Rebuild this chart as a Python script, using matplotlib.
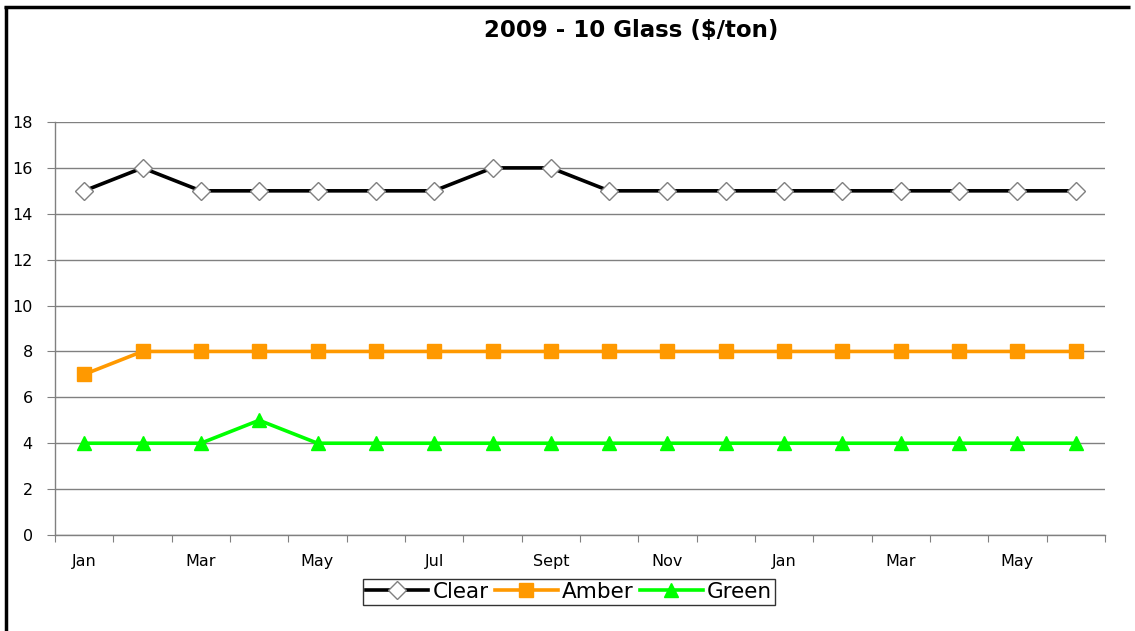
import matplotlib
matplotlib.use("Agg")
import matplotlib.pyplot as plt
from matplotlib.lines import Line2D
import numpy as np

plt.rcParams['font.family'] = ['DejaVu Sans']

months = ["Jan", "Feb", "Mar", "Apr", "May", "Jun", "Jul", "Aug", "Sept",
          "Oct", "Nov", "Dec", "Jan", "Feb", "Mar", "Apr", "May", "Jun"]
clear = [15, 16, 15, 15, 15, 15, 15, 16, 16, 15, 15, 15, 15, 15, 15, 15, 15, 15]
amber = [7, 8, 8, 8, 8, 8, 8, 8, 8, 8, 8, 8, 8, 8, 8, 8, 8, 8]
green = [4, 4, 4, 5, 4, 4, 4, 4, 4, 4, 4, 4, 4, 4, 4, 4, 4, 4]
title = "2009 - 10 Glass ($/ton)"

W, H = 1135, 631
fig = plt.figure(figsize=(W / 100, H / 100), dpi=100)
fig.patch.set_facecolor("white")

# frame lines (top and left)
fig.add_artist(Line2D([5.5 / W, 5.5 / W], [0, 1 - 5.5 / H], transform=fig.transFigure,
                      color="black", lw=2.5, solid_capstyle="butt"))
fig.add_artist(Line2D([4 / W, 1130 / W], [1 - 6.5 / H, 1 - 6.5 / H], transform=fig.transFigure,
                      color="black", lw=2.5, solid_capstyle="butt"))

left, right, bottom, top = 55 / W, 1105 / W, 1 - 535 / H, 1 - 122 / H
ax = fig.add_axes([left, bottom, right - left, top - bottom])

x = np.arange(len(months))
gc = "#808080"
ax.plot(x, clear, color="black", lw=2.6, marker="D", ms=9, mfc="white", mec="#808080",
        mew=1.0, label="Clear", zorder=4)
ax.plot(x, amber, color="#FF9900", lw=2.6, marker="s", ms=10, mfc="#FF9900", mec="#FF9900",
        label="Amber", zorder=4)
ax.plot(x, green, color="#00FF00", lw=2.6, marker="^", ms=10, mfc="#00FF00", mec="#00FF00",
        label="Green", zorder=4)

ax.set_xlim(-0.5, len(months) - 0.5)
ax.set_ylim(0, 18)
ax.set_yticks(np.arange(0, 19, 2))
ax.yaxis.grid(True, color=gc, lw=1.0)
ax.set_axisbelow(True)

ax.set_xticks(np.arange(-0.5, len(months), 1.0))
ax.set_xticklabels([])
ax.set_xticks(x[::2], minor=True)
ax.set_xticklabels(months[::2], minor=True)
ax.tick_params(axis="x", which="major", length=5, color=gc, direction="out")
ax.tick_params(axis="x", which="minor", length=0, pad=14, labelsize=11.5)
ax.tick_params(axis="y", length=6, color=gc, labelsize=11.5, pad=10)

for s in ["top", "right"]:
    ax.spines[s].set_visible(False)
for s in ["left", "bottom"]:
    ax.spines[s].set_color(gc)
    ax.spines[s].set_linewidth(1.0)

fig.text(631 / W, 1 - 30 / H, title, ha="center", va="center", fontsize=16.5, fontweight="bold")

leg = ax.legend(loc="center", bbox_to_anchor=(569 / W, 1 - 592 / H), bbox_transform=fig.transFigure,
                ncol=3, fontsize=15.5, frameon=True, fancybox=False, edgecolor="black",
                handlelength=2.9, handletextpad=0.2, columnspacing=0.3, borderpad=0.15,
                borderaxespad=0)
leg.get_frame().set_linewidth(1.0)

fig.savefig("out.png", dpi=100, facecolor="white")
